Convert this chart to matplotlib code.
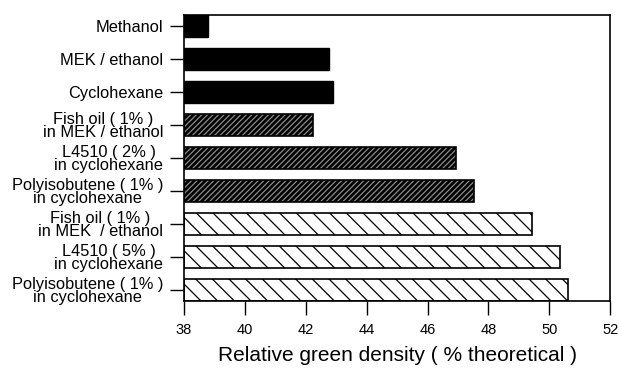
import matplotlib
matplotlib.use("Agg")
import matplotlib.pyplot as plt
import numpy as np

plt.rcParams['font.family'] = ['Liberation Sans', 'DejaVu Sans']
plt.rcParams['hatch.linewidth'] = 0.9

labels = ["Methanol",
          "MEK / ethanol",
          "Cyclohexane",
          "Fish oil ( 1% )\nin MEK / ethanol",
          "L4510 ( 2% )\nin cyclohexane",
          "Polyisobutene ( 1% )\nin cyclohexane",
          "Fish oil ( 1% )\nin MEK  / ethanol",
          "L4510 ( 5% )\nin cyclohexane",
          "Polyisobutene ( 1% )\nin cyclohexane"]
density = [38.78, 42.77, 42.91, 42.25, 46.94, 47.54, 49.43, 50.34, 50.61]
# fill style per bar: solid, dense hatch, open hatch
styles = ["solid", "solid", "solid", "dense", "dense", "dense", "open", "open", "open"]
x_ticks = [38, 40, 42, 44, 46, 48, 50, 52]

fig = plt.figure(figsize=(6.19, 3.70), dpi=100)
ax = fig.add_axes([0.297, 0.186, 0.689, 0.773])

pos = np.arange(len(labels))
base = 38
h = 0.67
for i, (v, s) in enumerate(zip(density, styles)):
    if s == "solid":
        ax.barh(pos[i], v - base, left=base, height=h, color="black", edgecolor="black")
    elif s == "dense":
        # black bar with fine light diagonal lines on top
        ax.barh(pos[i], v - base, left=base, height=h, color="black", linewidth=0)
        ax.barh(pos[i], v - base, left=base, height=h, fill=False,
                edgecolor="#8a8a8a", hatch="//////", linewidth=0)
        ax.barh(pos[i], v - base, left=base, height=h, fill=False,
                edgecolor="black", linewidth=1.2)
    else:
        ax.barh(pos[i], v - base, left=base, height=h, facecolor="white",
                edgecolor="black", hatch="\\\\", linewidth=1.2)

ax.set_xlim(38, 52)
ax.set_ylim(len(labels) - 1 + 0.335, -0.335)
ax.set_xticks(x_ticks)
ax.set_yticks(pos)
ax.set_yticklabels(labels, fontsize=11.8, linespacing=0.9, multialignment='center')
ax.tick_params(axis='x', labelsize=10.5, length=10, width=1, pad=6)
ax.tick_params(axis='y', length=10, width=1, pad=5)
for sp in ax.spines.values():
    sp.set_linewidth(1.2)

ax.set_xlabel("Relative green density ( % theoretical )", fontsize=15, labelpad=6)

fig.savefig("out.png", dpi=100)
